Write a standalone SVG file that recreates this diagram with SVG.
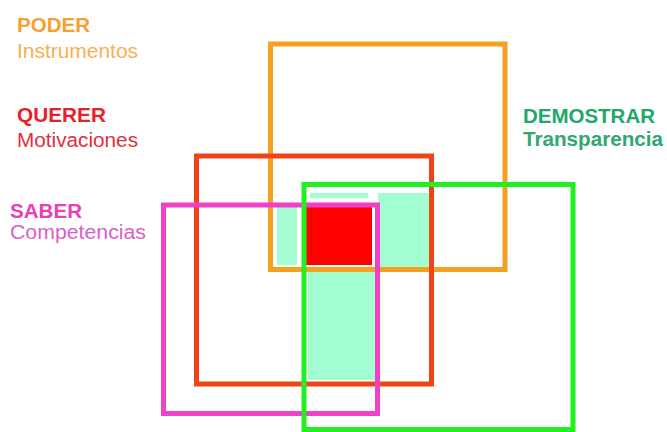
<svg xmlns="http://www.w3.org/2000/svg" width="667" height="432" viewBox="0 0 667 432">
<style>
  .box { fill: none; stroke-width: 5; }
  .mint { fill: #a2fdd0; }
  text { font-family: "Liberation Sans", Arial, sans-serif; font-size: 20px; }
  .t { font-weight: bold; }
</style>
<rect width="667" height="432" fill="#ffffff"/>
<g id="fills">
  <rect class="mint" x="277" y="207" width="20" height="58"/>
  <rect class="mint" x="310" y="193" width="58" height="5"/>
  <rect class="mint" x="378" y="193" width="52" height="74"/>
  <rect class="mint" x="308" y="270" width="69" height="110"/>
  <rect x="305" y="205" width="67" height="60" fill="#ff0000"/>
</g>
<g id="poder">
  <rect class="box" x="270.5" y="44" width="234.5" height="225.5" stroke="#f5a020"/>
  <text class="t" x="17" y="32" fill="#f5a030" textLength="73" lengthAdjust="spacingAndGlyphs">PODER</text>
  <text x="17" y="58" fill="#f5b050" textLength="121" lengthAdjust="spacingAndGlyphs">Instrumentos</text>
</g>
<g id="querer">
  <rect class="box" x="196.5" y="156" width="235" height="228" stroke="#f04418"/>
  <text class="t" x="17" y="122" fill="#e8202a" textLength="89" lengthAdjust="spacingAndGlyphs">QUERER</text>
  <text x="17" y="147" fill="#e03040" textLength="121" lengthAdjust="spacingAndGlyphs">Motivaciones</text>
</g>
<g id="saber">
  <rect class="box" x="163.5" y="205" width="214" height="208.5" stroke="#f040c8"/>
  <text class="t" x="10" y="218" fill="#e840b8" textLength="72" lengthAdjust="spacingAndGlyphs">SABER</text>
  <text x="10" y="239" fill="#d860c8" textLength="136" lengthAdjust="spacingAndGlyphs">Competencias</text>
</g>
<g id="demostrar">
  <rect class="box" x="304" y="184.5" width="269" height="245" stroke="#22ee22"/>
  <text class="t" x="523" y="123" fill="#20a868" textLength="132" lengthAdjust="spacingAndGlyphs">DEMOSTRAR</text>
  <text class="t" x="523" y="146" fill="#30a870" textLength="140" lengthAdjust="spacingAndGlyphs">Transparencia</text>
</g>
<g id="connectors"></g>
</svg>
